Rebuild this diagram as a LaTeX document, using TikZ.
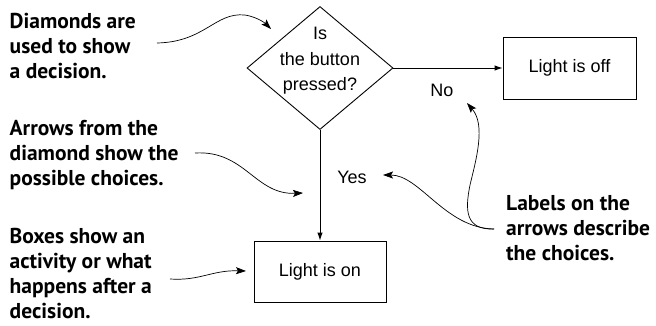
\documentclass[tikz,border=0pt]{standalone}
\usepackage{fontspec}
\setmainfont{Liberation Sans}
\newfontfamily\annotfont{PT Sans}
\usetikzlibrary{shapes.geometric,arrows.meta}
\begin{document}
\begin{tikzpicture}[x=1pt,y=-1pt,
  flowline/.style={line width=0.9pt,-{Latex[length=8pt,width=5.5pt]}},
  noteline/.style={line width=0.7pt,-{Stealth[length=10pt,width=7pt,inset=2pt]}},
  box/.style={draw,line width=0.9pt,inner sep=0pt,minimum width=133pt,minimum height=62pt,
    font=\fontsize{18}{22}\selectfont},
  plain/.style={inner sep=0pt,font=\fontsize{18}{25.5}\selectfont,align=center},
  note/.style={inner sep=0pt,anchor=west,align=left,
    font=\annotfont\bfseries\fontsize{21.5}{25}\selectfont}]
\useasboundingbox (0,0) rectangle (656,325);

% flow chart
\node[draw,line width=0.9pt,shape=diamond,minimum width=146pt,minimum height=123pt,inner sep=0pt] (q) at (320,68) {};
\node[plain] (qt) at (320,61) {Is\\the button\\pressed?};
\node[box] (off) at (569.5,68) {Light is off};
\node[box,minimum width=132pt,minimum height=61pt] (on) at (320,271.5) {Light is on};
\draw[flowline] (q.east) -- (off.west);
\draw[flowline] (q.south) -- (on.north);
\node[plain] (no) at (442,90) {No};
\node[plain] (yes) at (352,177) {Yes};

% annotations
\node[note] (n1) at (9.5,46) {Diamonds are\\used to show\\a decision.};
\node[note] (n2) at (9.5,155) {Arrows from the\\diamond show the\\possible choices.};
\node[note] (n3) at (9.5,274) {Boxes show an\\activity or what\\happens after a\\decision.};
\node[note] (n4) at (506,228) {Labels on the\\arrows describe\\the choices.};

\coordinate (s1) at (157,43);
\coordinate (t1) at (271,29);
\coordinate (s2) at (195,153);
\coordinate (t2) at (303,193);
\coordinate (s3) at (170,279);
\coordinate (t3) at (246,271);
\coordinate (s4) at (494,229);
\coordinate (t4a) at (467,103);
\coordinate (t4b) at (383,175);

\draw[noteline] (s1) .. controls (205,42) and (215,12) .. (245,15) .. controls (257,17) and (265,23) .. (t1);
\draw[noteline] (s2) .. controls (245,150) and (255,195) .. (t2);
\draw[noteline] (s3) .. controls (200,281) and (212,270) .. (t3);
\draw[noteline] (s4) .. controls (465,230) and (465,210) .. (470,185) .. controls (476,160) and (486,125) .. (t4a);
\draw[noteline] (s4) .. controls (445,228) and (420,175) .. (t4b);
\end{tikzpicture}
\end{document}
